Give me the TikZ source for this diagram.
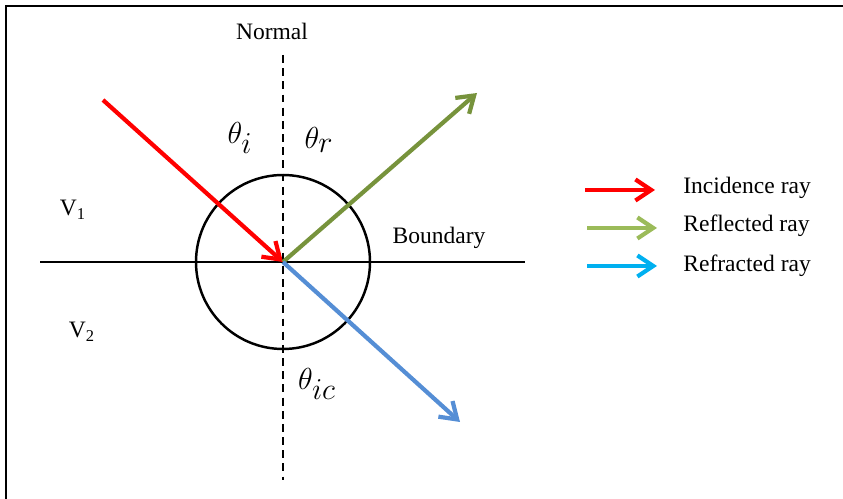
\documentclass[tikz,border=0pt]{standalone}
\usepackage{fontspec}
\setmainfont{Liberation Serif}
\usetikzlibrary{
    arrows.meta
}
\definecolor{incred}{RGB}{255,0,0}
\definecolor{reflgreen}{RGB}{119,147,60}
\definecolor{refrblue}{RGB}{85,142,213}
\definecolor{leggreen}{RGB}{155,187,89}
\definecolor{legblue}{RGB}{0,176,240}

\begin{document}
\begin{tikzpicture}[
    x=0.02cm,
    y=-0.02cm,
    font=\fontsize{13.4}{16}\selectfont,
    ray/.style={
        line width=2.4pt,
        -{Straight Barb[length=9pt,width=12pt]}
    },
    lbl/.style={
        inner sep=0pt
    },
    anglbl/.style={
        inner sep=0pt,
        font=\fontsize{16}{19}\selectfont
    }
]
\useasboundingbox (0,0) rectangle (843,499);

%--------------------------------------------------
% frame
\draw[line width=1.1pt] (6,499) -- (6,6) -- (843,6);

\coordinate (O) at (283,262);
\coordinate (normal_top) at (283,55);
\coordinate (normal_bot) at (283,480);
\coordinate (bnd_left) at (40,262);
\coordinate (bnd_right) at (525,262);
\coordinate (inc_start) at (103,100);
\coordinate (refl_end) at (477,93);
\coordinate (refr_end) at (460,422);

\draw[line width=0.9pt] (bnd_left) -- (bnd_right);
\draw[line width=1.1pt, dash pattern=on 4.5pt off 3pt] (normal_top) -- (normal_bot);
\draw[line width=1.4pt] (O) circle[radius=87];

\draw[ray, incred] (inc_start) -- (O);
\draw[ray, reflgreen] (O) -- (refl_end);
\draw[ray, refrblue] (O) -- (refr_end);

%--------------------------------------------------
\node[lbl] (normal) at (272,31) {Normal};
\node[lbl] (boundary) at (439,238) {Boundary};
\node[lbl] (v1) at (73,210) {V\textsubscript{1}};
\node[lbl] (v2) at (82,332) {V\textsubscript{2}};
\node[anglbl] (thi) at (240,138) {$\theta_{\textstyle i}$};
\node[anglbl] (thr) at (319,140) {$\theta_{\textstyle r}$};
\node[anglbl] (thic) at (317,384) {$\theta_{\textstyle ic}$};

%--------------------------------------------------
% legend
\coordinate (leg1a) at (585,190);
\coordinate (leg1b) at (655,190);
\coordinate (leg2a) at (587,228);
\coordinate (leg2b) at (657,228);
\coordinate (leg3a) at (587,266);
\coordinate (leg3b) at (657,266);

\draw[ray, incred] (leg1a) -- (leg1b);
\draw[ray, leggreen] (leg2a) -- (leg2b);
\draw[ray, legblue] (leg3a) -- (leg3b);

\node[lbl, anchor=west] (inc_lbl) at (683,188) {Incidence ray};
\node[lbl, anchor=west] (refl_lbl) at (683,226) {Reflected ray};
\node[lbl, anchor=west] (refr_lbl) at (683,266) {Refracted ray};

\end{tikzpicture}
\end{document}
